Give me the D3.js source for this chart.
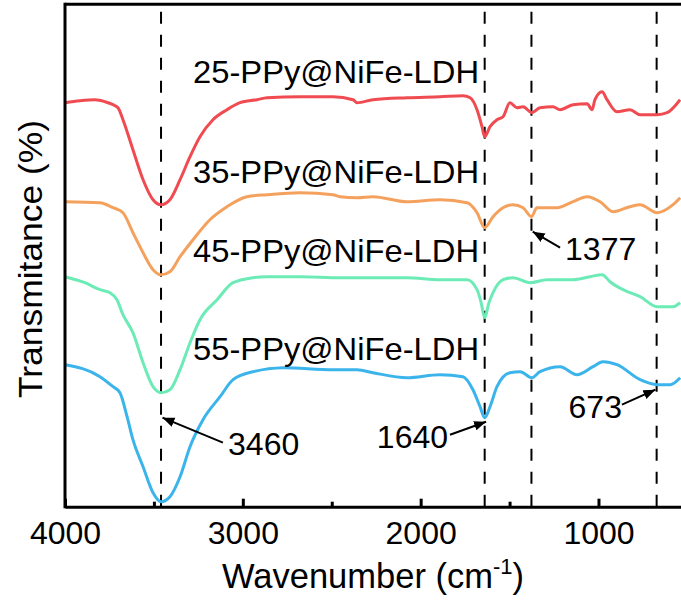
<!DOCTYPE html>
<html>
<head>
<meta charset="utf-8">
<script src="https://cdn.jsdelivr.net/npm/d3@7"></script>
<style>
  body { margin: 0; background: #fff; }
  svg { display: block; font-family: "Liberation Sans", Arial, sans-serif; }
</style>
</head>
<body>
<svg id="chart" width="681" height="601"></svg>
<script>
// FTIR spectra, [wavenumber cm-1, transmittance (a.u., offset)]
const spec25 = [[4000,404],[3916,406],[3831,407],[3775,405],[3730,402],[3702,399],[3674,387],[3618,357],[3561,327],[3505,307],[3460,302],[3410,307],[3353,327],[3297,350],[3241,370],[3168,387],[3089,397],[3016,404],[2920,407],[2864,409],[2678,410],[2493,410],[2380,407],[2358,404],[2268,407],[2077,409],[1891,410],[1762,411],[1722,409],[1683,397],[1655,380],[1640,370],[1610,380],[1571,387],[1537,390],[1498,404],[1458,399],[1424,400],[1374,394],[1329,399],[1256,400],[1216,397],[1143,402],[1064,403],[1036,397],[1020,407],[980,415],[952,407],[896,395],[823,397],[766,392],[670,392],[614,394],[541,407]];
const spec35 = [[4000,305],[3803,304],[3730,299],[3674,294],[3618,274],[3561,254],[3505,237],[3460,232],[3410,235],[3353,250],[3280,267],[3185,287],[3089,300],[2977,310],[2864,312],[2678,314],[2493,312],[2454,310],[2358,309],[2268,310],[2077,305],[1891,307],[1739,304],[1683,294],[1640,279],[1593,290],[1537,299],[1481,302],[1424,299],[1377,290],[1346,299],[1233,299],[1143,305],[1064,310],[991,305],[918,295],[823,300],[766,302],[670,294],[581,302],[541,309]];
const spec45 = [[4000,230],[3888,224],[3803,217],[3747,214],[3708,207],[3674,192],[3618,174],[3561,144],[3505,120],[3460,114],[3410,117],[3353,137],[3297,164],[3241,187],[3145,207],[3055,224],[2943,229],[2864,230],[2678,230],[2454,229],[2077,229],[1891,227],[1739,227],[1683,217],[1660,204],[1640,189],[1616,204],[1593,214],[1537,227],[1481,229],[1385,224],[1290,227],[1143,227],[1048,230],[980,232],[935,225],[862,217],[766,210],[670,200],[581,200],[541,204]];
const spec55 = [[4000,142],[3803,130],[3730,120],[3691,114],[3651,90],[3618,67],[3561,40],[3505,14],[3460,5],[3410,10],[3353,30],[3297,60],[3224,87],[3128,110],[3055,127],[2943,135],[2774,139],[2493,137],[2358,137],[2268,134],[2077,129],[1891,132],[1762,130],[1706,117],[1666,100],[1640,89],[1610,100],[1571,120],[1498,134],[1441,135],[1374,129],[1329,135],[1216,140],[1121,132],[1031,140],[975,145],[896,142],[766,127],[670,122],[597,122],[541,129]];

const seriesNames = ['25-PPy@NiFe-LDH', '35-PPy@NiFe-LDH', '45-PPy@NiFe-LDH', '55-PPy@NiFe-LDH'];
const seriesData = [spec25, spec35, spec45, spec55];
const seriesColors = ['#ef4b50', '#f5a15e', '#6cebb6', '#3bb4ec'];
// label anchor [wavenumber, value]
const labelPos = [[3280,424],[3280,324],[3280,245],[3280,147]];

const peakLines = [3460, 1640, 1377, 673];
const majorTicks = [4000, 3000, 2000, 1000];
const minorTicks = [3500, 2500, 1500, 500];

// annotations: text, text anchor, arrow start, arrow tip, text-anchor
const annoText = ['3460', '1640', '673', '1377'];
const annoTextPos = [[3083,52],[1846,59],[868,89],[1188,247]];
const annoFrom = [[3112,64],[1835,72],[868,102],[1216,259]];
const annoTo = [[3452,89],[1632,85],[680,117],[1370,275]];
const annoAnchor = ['start', 'end', 'end', 'start'];

const margin = {left: 65, top: 4.3, bottom: 506.7};
const svg = d3.select('#chart');

const x = d3.scaleLinear().domain([4000, 400]).range([65, 65 + 3600 * 0.17783]);
const y = d3.scaleLinear().domain([0, 500]).range([506.7, 6.7]);

svg.append('defs').append('marker')
  .attr('id', 'arrow')
  .attr('viewBox', '0 0 10 10')
  .attr('refX', 10).attr('refY', 5)
  .attr('markerWidth', 6).attr('markerHeight', 6)
  .attr('markerUnits', 'strokeWidth')
  .attr('orient', 'auto')
  .append('path')
  .attr('d', 'M0,1 L10,5 L0,9 z')
  .attr('fill', '#000');

// dashed peak guides
svg.append('g')
  .selectAll('line')
  .data(peakLines)
  .enter()
  .append('line')
  .attr('x1', d => x(d)).attr('x2', d => x(d))
  .attr('y1', y(495)).attr('y2', margin.bottom)
  .attr('stroke', '#000')
  .attr('stroke-width', 2)
  .attr('stroke-dasharray', '12,11');

// spectra
const line = d3.line()
  .x(d => x(d[0]))
  .y(d => y(d[1]))
  .curve(d3.curveMonotoneX);

svg.append('g')
  .selectAll('path')
  .data(seriesData)
  .enter()
  .append('path')
  .attr('d', line)
  .attr('fill', 'none')
  .attr('stroke', (d, i) => seriesColors[i])
  .attr('stroke-width', 3)
  .attr('stroke-linejoin', 'round');

svg.append('g')
  .selectAll('text')
  .data(seriesNames)
  .enter()
  .append('text')
  .attr('x', (d, i) => x(labelPos[i][0]))
  .attr('y', (d, i) => y(labelPos[i][1]))
  .attr('font-size', 30.5)
  .attr('textLength', 286)
  .attr('lengthAdjust', 'spacingAndGlyphs')
  .attr('fill', '#000')
  .text(d => d);

// annotations
const anno = svg.append('g');
annoText.forEach((t, i) => {
  anno.append('line')
    .attr('x1', x(annoFrom[i][0])).attr('y1', y(annoFrom[i][1]))
    .attr('x2', x(annoTo[i][0])).attr('y2', y(annoTo[i][1]))
    .attr('stroke', '#000')
    .attr('stroke-width', 2)
    .attr('marker-end', 'url(#arrow)');
  anno.append('text')
    .attr('x', x(annoTextPos[i][0]))
    .attr('y', y(annoTextPos[i][1]))
    .attr('text-anchor', annoAnchor[i])
    .attr('font-size', 32)
    .text(t);
});

// frame
svg.append('line')
  .attr('x1', margin.left).attr('x2', x(400))
  .attr('y1', margin.top).attr('y2', margin.top)
  .attr('stroke', '#000').attr('stroke-width', 3);
svg.append('line')
  .attr('x1', margin.left).attr('x2', margin.left)
  .attr('y1', margin.top - 1.5).attr('y2', margin.bottom + 1.5)
  .attr('stroke', '#000').attr('stroke-width', 3);

// x axis, ticks pointing inward
const xAxis = svg.append('g')
  .attr('transform', 'translate(0,' + margin.bottom + ')')
  .call(d3.axisBottom(x).tickValues(majorTicks).tickSizeInner(-8).tickSizeOuter(0).tickFormat(d3.format('d')));
xAxis.select('.domain').attr('stroke-width', 3);
xAxis.selectAll('.tick line').attr('stroke-width', 3);
xAxis.selectAll('.tick text')
  .attr('y', 37.5)
  .attr('dy', null)
  .attr('font-size', 32)
  .attr('font-family', '"Liberation Sans", Arial, sans-serif')
  .attr('fill', '#000');

const xMinor = svg.append('g')
  .attr('transform', 'translate(0,' + margin.bottom + ')')
  .call(d3.axisBottom(x).tickValues(minorTicks).tickSizeInner(-5).tickSizeOuter(0).tickFormat(''));
xMinor.select('.domain').remove();
xMinor.selectAll('.tick line').attr('stroke-width', 3);

// axis titles
const xTitle = svg.append('text')
  .attr('x', 222)
  .attr('y', 588)
  .attr('font-size', 34.5);
xTitle.append('tspan').text('Wavenumber (cm');
xTitle.append('tspan').attr('font-size', 22).attr('dy', -14).text('-1');
xTitle.append('tspan').attr('dy', 14).text(')');

svg.append('text')
  .attr('transform', 'translate(42,259) rotate(-90)')
  .attr('text-anchor', 'middle')
  .attr('font-size', 34)
  .attr('textLength', 278)
  .attr('lengthAdjust', 'spacingAndGlyphs')
  .text('Transmitance (%)');
</script>
</body>
</html>
